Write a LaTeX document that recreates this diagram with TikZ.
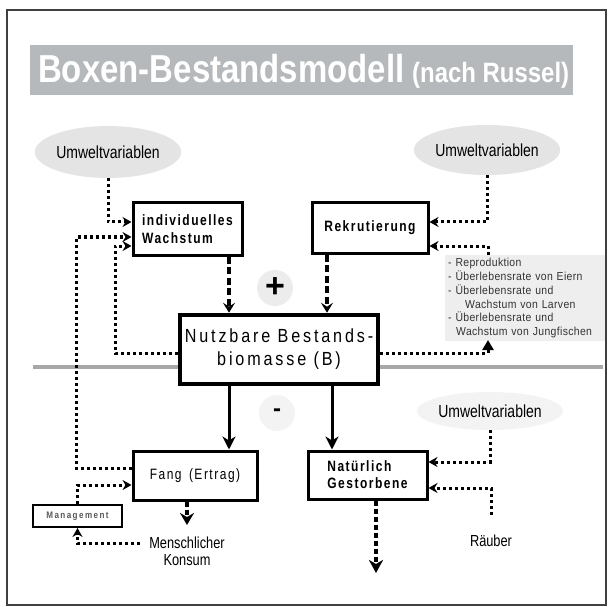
\documentclass[tikz,border=0pt]{standalone}
\usepackage{fontspec}
\setmainfont{Liberation Sans}
\newfontfamily\cnd[FakeStretch=0.8]{Liberation Sans}
\newfontfamily\ttl[FakeStretch=0.845]{Liberation Sans}
\newfontfamily\sttl[FakeStretch=0.855]{Liberation Sans}
\newfontfamily\bx[FakeStretch=0.8,LetterSpace=10]{Liberation Sans}
\newfontfamily\mainf[FakeStretch=0.85,LetterSpace=15]{Liberation Sans}
\newfontfamily\notef[FakeStretch=0.9,LetterSpace=3]{Liberation Sans}
\newfontfamily\mgf[FakeStretch=0.85,LetterSpace=15]{Liberation Sans}
\usetikzlibrary{arrows.meta,shapes.geometric,calc}
\definecolor{band}{RGB}{181,185,187}
\definecolor{ellfill}{RGB}{228,228,228}
\definecolor{ellfaint}{RGB}{243,243,243}
\definecolor{notefill}{RGB}{238,238,238}
\definecolor{sepline}{RGB}{168,168,168}
\tikzset{
  boxnode/.style={draw=black, line width=3pt, fill=white, inner sep=2pt},
  ellnode/.style={ellipse, fill=ellfill, inner sep=0pt, font=\cnd\fontsize{17.5}{20}\selectfont},
  dotline/.style={line width=3pt, dash pattern=on 3pt off 3pt},
  dotarrow/.style={dotline, -{Stealth[length=9pt,width=10pt,inset=3pt]}},
  dasharrow/.style={line width=3.5pt, dash pattern=on 7pt off 3.5pt, -{Stealth[length=10pt,width=12pt,inset=4pt]}},
  solidarrow/.style={line width=3pt, -{Stealth[length=13pt,width=13pt,inset=4pt]}},
  signnode/.style={circle, fill=ellfill!70, minimum size=36pt, inner sep=0pt},
}
\begin{document}
\begin{tikzpicture}[x=1pt,y=-1pt]
\useasboundingbox (0,0) rectangle (611,607);
% frame
\draw[black!75, line width=1.5pt] (7,10) rectangle (606,605);
% title band
\fill[band] (30,45) rectangle (573,95);
\node[anchor=base west, inner sep=0pt, text=white, font=\ttl\bfseries\fontsize{39}{39}\selectfont] (title) at (38,83) {Boxen-Bestandsmodell};
\node[anchor=base west, inner sep=0pt, text=white, font=\sttl\bfseries\fontsize{28}{28}\selectfont] (sub) at (412,83) {(nach Russel)};
% separator line
\draw[sepline, line width=4pt] (33,367) -- (603,367);
% ellipses
\node[ellnode, minimum width=117pt, minimum height=52pt] (ellL) at (108,152) {Umweltvariablen};
\node[ellnode, minimum width=117pt, minimum height=50pt] (ellR) at (487,150) {Umweltvariablen};
\node[ellnode, fill=ellfaint, minimum width=118pt, minimum height=38pt] (ellR2) at (490,411) {Umweltvariablen};
% signs
\node[signnode] (plus) at (275,288) {\bfseries\fontsize{34}{34}\selectfont +};
\node[signnode, fill=ellfill!45] (minus) at (277,413) {\bfseries\fontsize{24}{24}\selectfont -};
% boxes
\node[boxnode, minimum width=109pt, minimum height=52pt, align=left, font=\bx\bfseries\fontsize{15}{18}\selectfont] (indiv) at (187.5,229) {individuelles\\Wachstum};
\node[boxnode, minimum width=116pt, minimum height=50pt, font=\bx\bfseries\fontsize{15}{18}\selectfont] (rekr) at (370,228) {Rekrutierung};
\node[boxnode, line width=4.5pt, minimum width=198pt, minimum height=69pt, align=center, font=\mainf\fontsize{19}{23}\selectfont] (main) at (279,349.5) {Nutzbare Bestands-\\biomasse (B)};
\node[boxnode, minimum width=124pt, minimum height=49pt, font=\bx\fontsize{15}{18}\selectfont] (fang) at (195,475.5) {Fang \,(Ertrag)};
\node[boxnode, minimum width=119pt, minimum height=48pt, align=left, font=\bx\bfseries\fontsize{15}{17}\selectfont] (nat) at (367.5,475) {Natürlich\\Gestorbene};
\node[boxnode, line width=2pt, minimum width=89pt, minimum height=22pt, text=black!65, font=\mgf\bfseries\fontsize{9.5}{10}\selectfont] (mgmt) at (77.5,516) {Management};
% note
\node[anchor=north west, fill=notefill, inner sep=3pt, text width=154pt, minimum height=85pt, align=left, text=black!80, font=\notef\fontsize{11.6}{13.8}\selectfont] (note) at (445,255) {- Reproduktion\\- Überlebensrate von Eiern\\- Überlebensrate und\\\hspace*{17pt}Wachstum von Larven\\- Überlebensrate und\\\hspace*{8pt}Wachstum von Jungfischen};
% texts
\node[align=center, font=\cnd\fontsize{16}{17}\selectfont] (kons) at (187,551.5) {Menschlicher\\Konsum};
\node[font=\cnd\fontsize{16}{17}\selectfont] (raeub) at (491,541) {Räuber};
% coordinates
\coordinate (lc) at (76,237);
\coordinate (ic) at (115,246);
\coordinate (rc) at (488,246);
\coordinate (mc) at (488,340);
\coordinate (xa) at (229,0);
\coordinate (xb) at (327,0);
\coordinate (xc) at (332,0);
\coordinate (xd) at (376,0);
\coordinate (xe) at (187,0);
\coordinate (natend) at (376,573);
\coordinate (fangend) at (187,525);
% connectors
\draw[dotarrow] (ellL.south) |- ([yshift=7pt]indiv.west);
\draw[dotarrow] ([yshift=7.5pt]fang.west) -| (lc) -- (lc -| indiv.west);
\draw[dotarrow] ([yshift=-3.5pt]main.west) -| (ic) -- (ic -| indiv.west);
\draw[dotarrow] (ellR.south) |- ([yshift=6pt]rekr.east);
\draw[dotarrow] (note.north -| rc) -- (rc) -- (rc -| rekr.east);
\draw[dotline, -{Triangle[length=10pt,width=11pt]}] ([yshift=-3.5pt]main.east) -| (mc);
\draw[dasharrow] (indiv.south -| xa) -- (main.north -| xa);
\draw[dasharrow] (rekr.south -| xb) -- (main.north -| xb);
\draw[solidarrow] (main.south -| xa) -- (fang.north -| xa);
\draw[solidarrow] (main.south -| xc) -- (nat.north -| xc);
\draw[dotarrow] (ellR2.south) |- ([yshift=13pt]nat.east);
\draw[dotarrow] ([yshift=17pt]raeub.north) |- ([yshift=-13pt]nat.east);
\draw[line width=4pt, dash pattern=on 5pt off 3pt, -{Stealth[length=13pt,width=14pt,inset=4pt]}] (nat.south -| xd) -- (natend);
\draw[line width=3.5pt, dash pattern=on 5pt off 3pt, -{Stealth[length=12pt,width=14pt,inset=4pt]}] (fang.south -| xe) -- (fangend);
\draw[dotarrow] (mgmt.north) |- ([yshift=-9.5pt]fang.west);
\draw[dotarrow] ([yshift=8pt,xshift=-6pt]kons.west) -| (mgmt.south);
\end{tikzpicture}
\end{document}
